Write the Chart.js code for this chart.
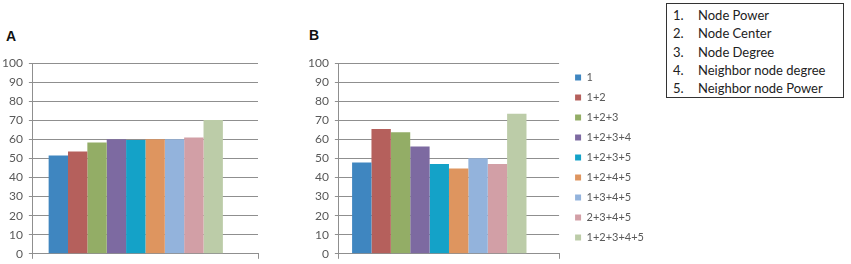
<!DOCTYPE html>
<html>
<head>
<meta charset="utf-8">
<script src="https://cdn.jsdelivr.net/npm/chart.js@4/dist/chart.umd.min.js"></script>
<style>
body{margin:0;background:#fff;width:851px;height:264px;overflow:hidden;position:relative;font-family:Lato,sans-serif}
.wrap{position:absolute}
.tag{position:absolute;font:bold 14px "Liberation Sans",Arial,sans-serif;color:#111}
#box{position:absolute;left:666px;top:3px;width:178px;height:95px;border:1px solid #333;box-sizing:border-box;font:13px Lato,sans-serif;color:#222;padding:2px 0 0 6px;line-height:18.3px}
#box span{display:inline-block;width:25px}
</style>
</head>
<body>
<div class="tag" style="left:6px;top:28px">A</div>
<div class="tag" style="left:309px;top:27px">B</div>
<div class="wrap" style="left:-6px;top:40px;width:276px;height:227px"><canvas id="chartA"></canvas></div>
<div class="wrap" style="left:302px;top:40px;width:352px;height:227px"><canvas id="chartB"></canvas></div>
<div id="box">
<div><span>1.</span>Node Power</div>
<div><span>2.</span>Node Center</div>
<div><span>3.</span>Node Degree</div>
<div><span>4.</span>Neighbor node degree</div>
<div><span>5.</span>Neighbor node Power</div>
</div>
<script>
const combos = ["1","1+2","1+2+3","1+2+3+4","1+2+3+5","1+2+4+5","1+3+4+5","2+3+4+5","1+2+3+4+5"]
const valuesA = [51.5,53.6,58.3,60,59.7,60,60,61,70.1]
const valuesB = [47.8,65.4,63.7,56.2,47.1,44.7,50.1,47.0,73.4]
const yTicks = [0,10,20,30,40,50,60,70,80,90,100]
const colors = ["#3f86c0","#b5605c","#93ad66","#7d6aa1","#14a2c8","#de955f","#93b3dc","#d29fa6","#bccca8"]

const gray = "#8f8f8f"
const textGray = "#595959"

function makeDatasets(values,cp){
  const ds = combos.map((c,i) => ({
    label:c,
    data:[values[i]],
    backgroundColor:colors[i],
    barPercentage:1,
    categoryPercentage:cp
  }))
  // empty slot that Excel left after the last bar
  ds.push({label:"",data:[null],backgroundColor:"rgba(0,0,0,0)",barPercentage:1,categoryPercentage:cp})
  return ds
}

function makeOptions(showLegend,pad){
  const opts = {
    responsive:true,
    maintainAspectRatio:false,
    animation:false,
    layout:{padding:pad},
    plugins:{
      tooltip:{enabled:false},
      legend:{
        display:showLegend,
        position:"right",
        align:"start",
        maxWidth:120,
        labels:{
          boxWidth:6,
          boxHeight:6,
          padding:9,
          color:textGray,
          font:{family:"Lato",size:11},
          filter:item => item.text !== ""
        }
      }
    },
    scales:{
      x:{
        offset:true,
        ticks:{display:false},
        grid:{drawOnChartArea:false,color:gray,tickLength:5},
        border:{color:gray}
      },
      y:{
        min:0,
        max:100,
        afterBuildTicks:axis => { axis.ticks = yTicks.map(v => ({value:v})) },
        ticks:{color:textGray,font:{family:"Lato",size:12},padding:6},
        grid:{color:gray,tickLength:4},
        border:{color:gray}
      }
    }
  }
  if(showLegend){
    // blank strip between plot and legend
    opts.scales.gap = {
      type:"linear",
      position:"right",
      ticks:{display:false},
      grid:{display:false},
      border:{display:false},
      afterFit:s => { s.width = 7 }
    }
  }
  return opts
}

new Chart(document.getElementById("chartA"),{
  type:"bar",
  data:{labels:[""],datasets:makeDatasets(valuesA,0.86)},
  options:makeOptions(false,{left:2,right:12,top:23,bottom:0})
})

new Chart(document.getElementById("chartB"),{
  type:"bar",
  data:{labels:[""],datasets:makeDatasets(valuesB,0.88)},
  options:makeOptions(true,{left:0,right:0,top:23,bottom:0})
})
</script>
</body>
</html>
